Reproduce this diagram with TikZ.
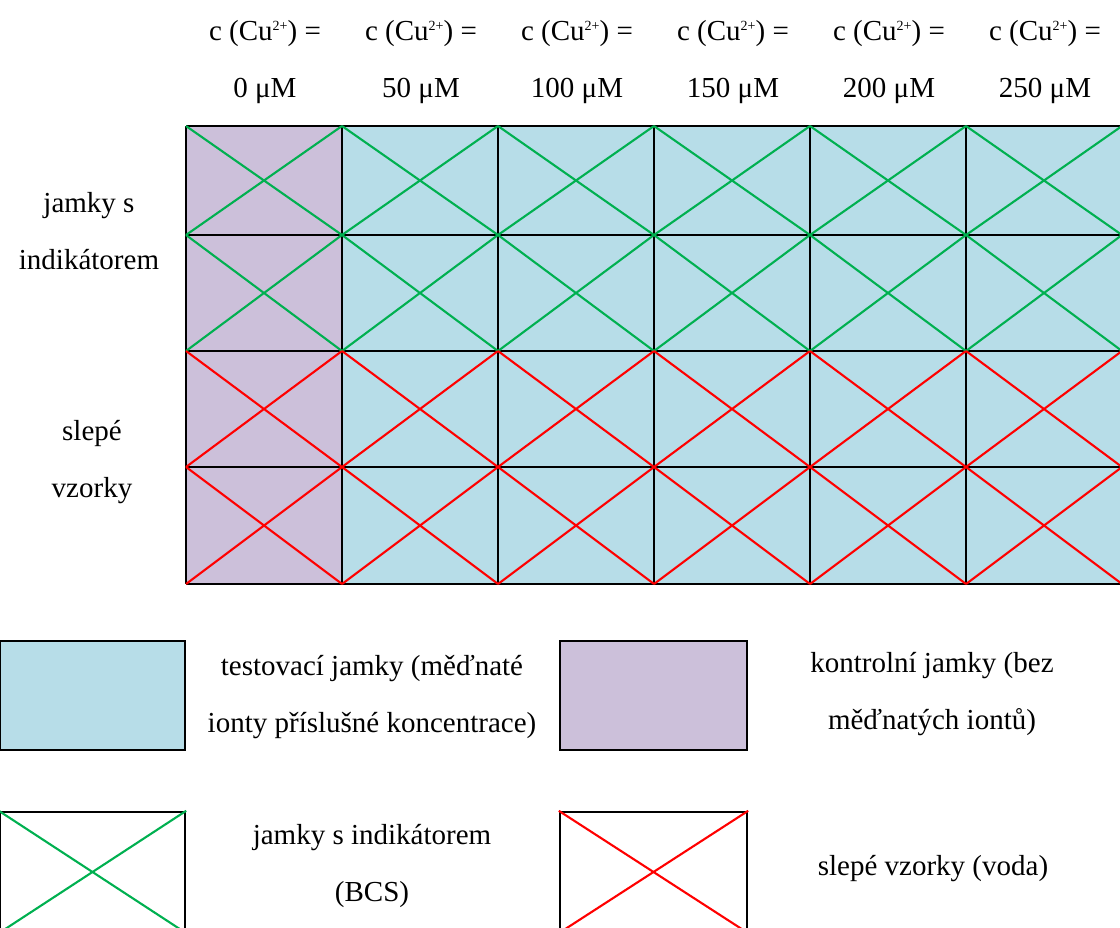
\documentclass[tikz,border=0pt]{standalone}
\usepackage{fontspec}
\setmainfont{Liberation Serif}
\definecolor{testblue}{RGB}{183,221,232}
\definecolor{ctrlpurple}{RGB}{204,192,218}
\definecolor{bcsgreen}{RGB}{0,176,80}
\definecolor{blankred}{RGB}{255,0,0}
\newcommand\cuion{Cu\raisebox{0.75ex}{\fontsize{14}{14}\selectfont 2+}}
\tikzset{
  lbl/.style={align=center,font=\fontsize{29}{57}\selectfont},
  well/.style={draw=black,line width=2.4pt},
  bcs/.style={draw=bcsgreen,line width=2.1pt},
  blank/.style={draw=blankred,line width=2.1pt},
  key/.style={well,inner sep=0pt,minimum width=185pt,minimum height=109pt},
}
\begin{document}
\begin{tikzpicture}[x=1pt,y=-1pt]
\useasboundingbox (0,0) rectangle (1120,928);
% plate
\fill[ctrlpurple] (186,126) rectangle (342,584);
\fill[testblue] (342,126) rectangle (1122,584);
\foreach \x in {186,342,...,1122} \draw[well] (\x,126) -- (\x,584);
\foreach \y in {126,235,351,467,584} \draw[well] (186,\y) -- (1122,\y);
\foreach \x in {186,342,...,966}
  \foreach \ya/\yb/\st in {126/235/bcs,235/351/bcs,351/467/blank,467/584/blank}
    \draw[\st] (\x,\ya) -- (\x+156,\yb) (\x,\yb) -- (\x+156,\ya);
% concentrations
\foreach \c [count=\i from 0] in {0,50,...,250}
  \node[lbl] (conc\c) at (265+156*\i,62) {c (\cuion) =\\\c~μM};
\node[lbl] (rowInd) at (89,231) {jamky s\\indikátorem};
\node[lbl] (rowBlank) at (92,462) {slepé\\vzorky};
% legend
\node[key,fill=testblue] (keyTest) at (92.5,695.5) {};
\node[key,fill=ctrlpurple,minimum width=187pt] (keyCtrl) at (653.5,695.5) {};
\node[key,minimum height=120pt] (keyBcs) at (92.5,872) {};
\node[key,minimum width=187pt,minimum height=120pt] (keyBlank) at (653.5,872) {};
\draw[bcs] (keyBcs.north west) -- (keyBcs.south east) (keyBcs.south west) -- (keyBcs.north east);
\draw[blank] (keyBlank.north west) -- (keyBlank.south east) (keyBlank.south west) -- (keyBlank.north east);
\node[lbl] (txtTest) at (372,697) {testovací jamky (měďnaté\\ionty příslušné koncentrace)};
\node[lbl] (txtCtrl) at (932,694) {kontrolní jamky (bez\\měďnatých iontů)};
\node[lbl] (txtBcs) at (372,866) {jamky s indikátorem\\(BCS)};
\node[lbl] (txtBlank) at (933,869) {slepé vzorky (voda)};
\end{tikzpicture}
\end{document}
